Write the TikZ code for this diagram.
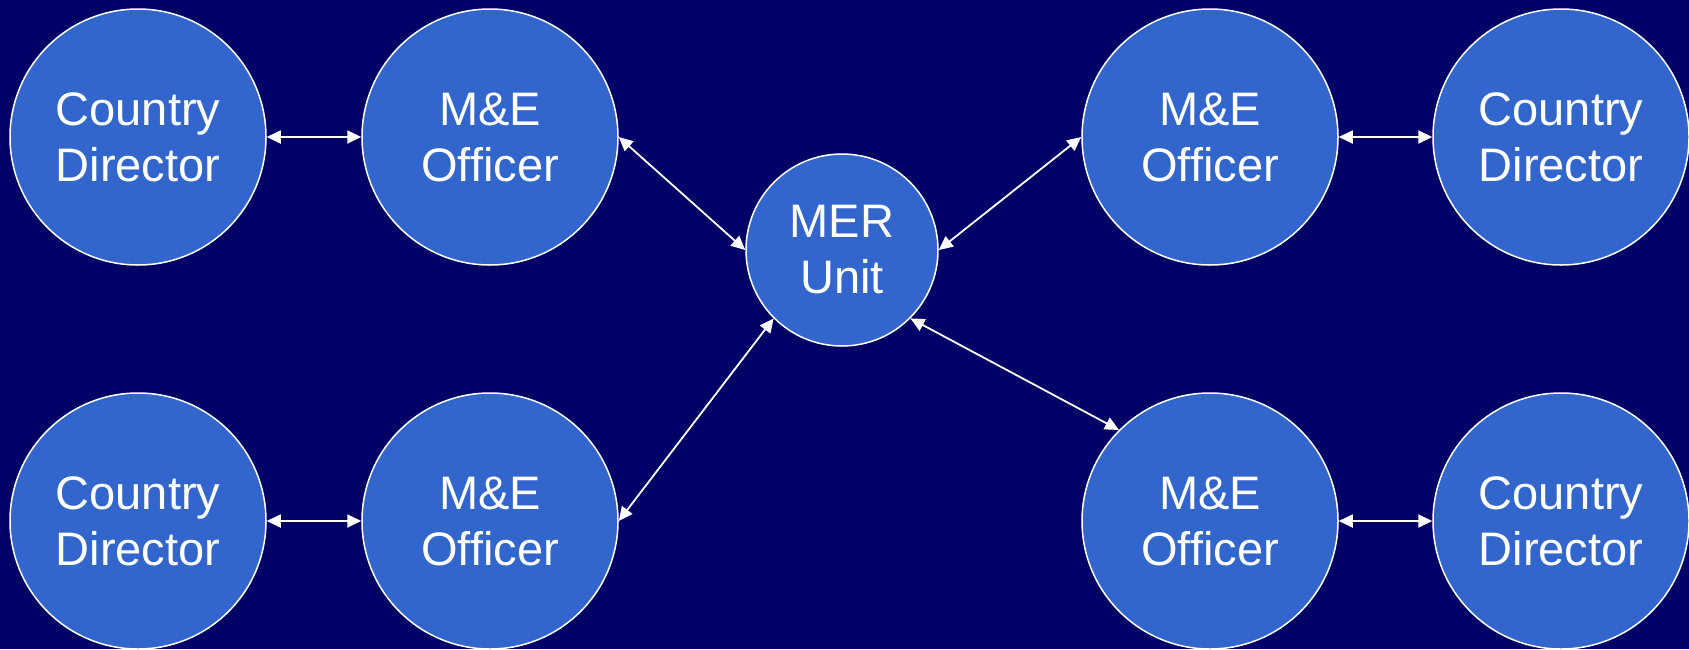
\documentclass[tikz,border=0pt]{standalone}
\usepackage{fontspec}
\setmainfont{Liberation Sans}
\usetikzlibrary{arrows.meta}
\definecolor{navy}{HTML}{000066}
\definecolor{bubble}{HTML}{3366CC}
\tikzset{
  person/.style={circle, fill=bubble, draw=white, line width=1.5pt,
    minimum size=256pt, inner sep=0pt, align=center, text=white,
    font=\fontsize{47}{56}\selectfont},
  unit/.style={person, minimum size=192pt},
  link/.style={draw=white, line width=1.8pt,
    {Triangle[length=14pt,width=13pt]}-{Triangle[length=14pt,width=13pt]}}
}
\begin{document}
\begin{tikzpicture}[x=1pt, y=1pt, yscale=-1]
\fill[navy] (0,0) rectangle (1689,649);
\useasboundingbox (0,0) rectangle (1689,649);

\node[unit] (mer) at (842,250) {MER\\Unit};

\node[person] (cdtl) at (138,137) {Country\\Director};
\node[person] (metl) at (490,137) {M\&E\\Officer};
\node[person] (metr) at (1210,137) {M\&E\\Officer};
\node[person] (cdtr) at (1561,137) {Country\\Director};

\node[person] (cdbl) at (138,521) {Country\\Director};
\node[person] (mebl) at (490,521) {M\&E\\Officer};
\node[person] (mebr) at (1210,521) {M\&E\\Officer};
\node[person] (cdbr) at (1561,521) {Country\\Director};

\draw[link] (cdtl) -- (metl);
\draw[link] (metr) -- (cdtr);
\draw[link] (cdbl) -- (mebl);
\draw[link] (mebr) -- (cdbr);

\draw[link] (metl.east) -- (mer.west);
\draw[link] (mer.east) -- (metr.west);
\draw[link] (mebl.east) -- (mer.south west);
\draw[link] (mer.south east) -- (mebr.north west);
\end{tikzpicture}
\end{document}
